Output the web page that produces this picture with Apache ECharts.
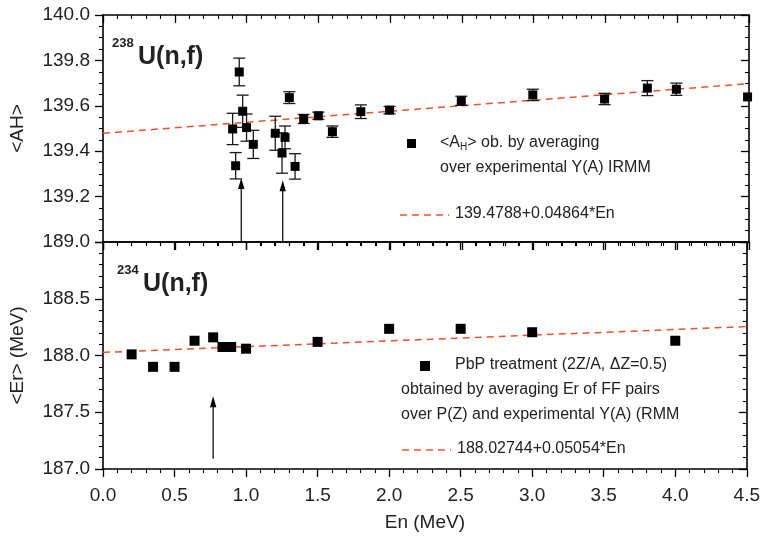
<!DOCTYPE html>
<html><head><meta charset="utf-8">
<script src="https://cdn.jsdelivr.net/npm/echarts@6/dist/echarts.min.js"></script>
<style>html,body{margin:0;padding:0;background:#fff}#c{width:763px;height:541px}</style>
</head><body><div id="c"></div>
<script>
// ---- data ----
var topEn  = [0.903,0.924,0.949,0.973,1.000,1.047,1.200,1.247,1.268,1.298,1.338,1.398,1.500,1.598,1.796,1.996,2.496,2.994,3.494,3.792,3.994,4.490];
var topAH  = [139.498,139.336,139.749,139.576,139.504,139.430,139.479,139.392,139.461,139.636,139.333,139.542,139.556,139.486,139.574,139.581,139.622,139.648,139.630,139.678,139.673,139.639];
var topErr = [0.069,0.058,0.061,0.071,0.060,0.062,0.075,0.089,0.050,0.026,0.056,0.020,0.016,0.025,0.030,0.016,0.020,0.025,0.025,0.033,0.027,0.0];
var topFitX = [0, 4.5];
var topFitY = [139.4788, 139.6977];
var topArrowX = [0.963, 1.252];
var topArrowFrom = [139.0, 139.0];
var topArrowTo = [139.282, 139.272];

var botEn = [0.20,0.35,0.50,0.64,0.77,0.835,0.896,1.00,1.50,2.00,2.50,3.00,4.00];
var botEr = [188.01,187.90,187.90,188.13,188.16,188.075,188.075,188.06,188.12,188.235,188.235,188.205,188.13];
var botFitX = [0, 4.5];
var botFitY = [188.0274, 188.2549];
var botArrowX = [0.77];
var botArrowFrom = [187.09];
var botArrowTo = [187.64];

var xTicks = ['0.0','0.5','1.0','1.5','2.0','2.5','3.0','3.5','4.0','4.5'];

// ---- helpers ----
var FONT = 'Liberation Sans, Arial, sans-serif';
var TXT = '#222';
function zip(a,b){return a.map(function(v,i){return [v,b[i]];});}
function errData(x,y,e){return x.map(function(v,i){return [v,y[i]-e[i],y[i]+e[i]];}).filter(function(d){return d[2]>d[1];});}
function arrowData(x,f,t){return x.map(function(v,i){return [v,f[i],t[i]];});}

function errRender(params, api){
  var x=api.value(0), p1=api.coord([x,api.value(1)]), p2=api.coord([x,api.value(2)]);
  var w=6, st={stroke:'#1a1a1a',lineWidth:1.3};
  return {type:'group',children:[
    {type:'line',shape:{x1:p1[0],y1:p1[1],x2:p2[0],y2:p2[1]},style:st},
    {type:'line',shape:{x1:p1[0]-w,y1:p1[1],x2:p1[0]+w,y2:p1[1]},style:st},
    {type:'line',shape:{x1:p2[0]-w,y1:p2[1],x2:p2[0]+w,y2:p2[1]},style:st}
  ]};
}
function arrowRender(params, api){
  var x=api.value(0), p1=api.coord([x,api.value(1)]), p2=api.coord([x,api.value(2)]);
  var h=11, w=3.2;
  return {type:'group',children:[
    {type:'line',shape:{x1:p1[0],y1:p1[1],x2:p2[0],y2:p2[1]+h-2},style:{stroke:'#000',lineWidth:1.2}},
    {type:'polygon',shape:{points:[[p2[0],p2[1]],[p2[0]-w,p2[1]+h],[p2[0]+w,p2[1]+h]]},style:{fill:'#000'}}
  ]};
}

function xAx(grid, pos, showLabel, inside){
  return {type:'value', gridIndex:grid, position:pos, min:0, max:4.5, interval:0.5,
    axisLine:{show:true,onZero:false,lineStyle:{color:'#000',width:1.6}},
    axisTick:{show:true,inside:inside,length:8,lineStyle:{color:'#000',width:1.3}},
    minorTick:{show:true,splitNumber:5,length:4,lineStyle:{color:'#000',width:1.1}},
    splitLine:{show:false}, minorSplitLine:{show:false},
    axisLabel:{show:showLabel,margin:17,color:TXT,fontSize:19,fontFamily:FONT,
      formatter:function(v){var i=Math.round(v/0.5);return xTicks[i]||'';}}
  };
}
function yAx(grid, pos, min, max, interval, minorSplit, showLabel, inside, showMin){
  return {type:'value', gridIndex:grid, position:pos, min:min, max:max, interval:interval,
    axisLine:{show:true,onZero:false,lineStyle:{color:'#000',width:1.6}},
    axisTick:{show:true,inside:inside,length:8,lineStyle:{color:'#000',width:1.3}},
    minorTick:{show:true,splitNumber:minorSplit,length:4,lineStyle:{color:'#000',width:1.1}},
    splitLine:{show:false}, minorSplitLine:{show:false},
    axisLabel:{show:showLabel,margin:13,color:TXT,fontSize:19,fontFamily:FONT,showMinLabel:showMin,
      formatter:function(v){return v.toFixed(1);}}
  };
}

var yTopL = yAx(0,'left',139,140,0.2,4,true,false,false);
yTopL.name='<AH>'; yTopL.nameLocation='middle'; yTopL.nameRotate=90; yTopL.nameGap=76;
yTopL.nameTextStyle={fontSize:19,color:TXT,fontFamily:FONT};
var yBotL = yAx(1,'left',187,189,0.5,5,true,false,true);
yBotL.name='<Er> (MeV)'; yBotL.nameLocation='middle'; yBotL.nameRotate=90; yBotL.nameGap=76;
yBotL.nameTextStyle={fontSize:19,color:TXT,fontFamily:FONT};
var xBot = xAx(1,'bottom',true,false);
xBot.name='En (MeV)'; xBot.nameLocation='middle'; xBot.nameGap=44;
xBot.nameTextStyle={fontSize:19,color:TXT,fontFamily:FONT};

var RED = '#f0502a';
var option = {
  animation:false,
  backgroundColor:'#fff',
  grid:[{left:103,right:14,top:15,height:227},{left:103,right:14,top:242,height:227}],
  xAxis:[xAx(0,'bottom',false,false), xAx(0,'top',false,true), xBot, xAx(1,'top',false,true)],
  yAxis:[yTopL, yAx(0,'right',139,140,0.2,4,false,true,false), yBotL, yAx(1,'right',187,189,0.5,5,false,true,true)],
  series:[
    {type:'line',xAxisIndex:0,yAxisIndex:0,data:zip(topFitX,topFitY),symbol:'none',
      lineStyle:{color:RED,width:1.5,type:[7,5]},z:2},
    {type:'custom',xAxisIndex:0,yAxisIndex:0,data:errData(topEn,topAH,topErr),renderItem:errRender,z:3},
    {type:'scatter',xAxisIndex:0,yAxisIndex:0,data:zip(topEn,topAH),symbol:'rect',symbolSize:9,
      itemStyle:{color:'#000',opacity:1},z:4},
    {type:'custom',xAxisIndex:0,yAxisIndex:0,data:arrowData(topArrowX,topArrowFrom,topArrowTo),renderItem:arrowRender,z:3},

    {type:'line',xAxisIndex:2,yAxisIndex:2,data:zip(botFitX,botFitY),symbol:'none',
      lineStyle:{color:RED,width:1.5,type:[7,5]},z:2},
    {type:'scatter',xAxisIndex:2,yAxisIndex:2,data:zip(botEn,botEr),symbol:'rect',symbolSize:10,
      itemStyle:{color:'#000',opacity:1},z:4},
    {type:'custom',xAxisIndex:2,yAxisIndex:2,data:arrowData(botArrowX,botArrowFrom,botArrowTo),renderItem:arrowRender,z:3}
  ],
  graphic:[
    // titles
    {type:'text',left:112,top:37,style:{text:'238',fontSize:13,fontWeight:'bold',fill:'#222',fontFamily:FONT}},
    {type:'text',left:138,top:45,style:{text:'U(n,f)',fontSize:25,fontWeight:'bold',fill:'#222',fontFamily:FONT}},
    {type:'text',left:117,top:264,style:{text:'234',fontSize:13,fontWeight:'bold',fill:'#222',fontFamily:FONT}},
    {type:'text',left:143,top:272,style:{text:'U(n,f)',fontSize:25,fontWeight:'bold',fill:'#222',fontFamily:FONT}},
    // top legend
    {type:'rect',shape:{x:407,y:139,width:9,height:9},style:{fill:'#000'}},
    {type:'text',left:440,top:135,style:{text:'{n|<A}{s|H}{n|> ob. by averaging}',fontFamily:FONT,
      rich:{n:{fontSize:16,fill:'#222',fontFamily:FONT},s:{fontSize:10,fill:'#222',fontFamily:FONT,padding:[9,0,0,0]}}}},
    {type:'text',left:440,top:160,style:{text:'over experimental Y(A) IRMM',fontSize:16,fill:'#222',fontFamily:FONT}},
    {type:'line',shape:{x1:400,y1:215,x2:449,y2:215},style:{stroke:RED,lineWidth:1.5,lineDash:[7,5]}},
    {type:'text',left:455,top:206,style:{text:'139.4788+0.04864*En',fontSize:16,fill:'#222',fontFamily:FONT}},
    // bottom legend
    {type:'rect',shape:{x:420,y:361,width:10,height:10},style:{fill:'#000'}},
    {type:'text',left:455,top:357,style:{text:'PbP treatment (2Z/A, \u0394Z=0.5)',fontSize:16,fill:'#222',fontFamily:FONT}},
    {type:'text',left:401,top:382,style:{text:'obtained by averaging Er of FF pairs',fontSize:16,fill:'#222',fontFamily:FONT}},
    {type:'text',left:401,top:407,style:{text:'over P(Z) and experimental Y(A) (RMM',fontSize:16,fill:'#222',fontFamily:FONT}},
    {type:'line',shape:{x1:402,y1:450,x2:451,y2:450},style:{stroke:RED,lineWidth:1.5,lineDash:[7,5]}},
    {type:'text',left:457,top:441,style:{text:'188.02744+0.05054*En',fontSize:16,fill:'#222',fontFamily:FONT}}
  ]
};
var chart = echarts.init(document.getElementById('c'), null, {renderer:'canvas'});
chart.setOption(option);
</script></body></html>
